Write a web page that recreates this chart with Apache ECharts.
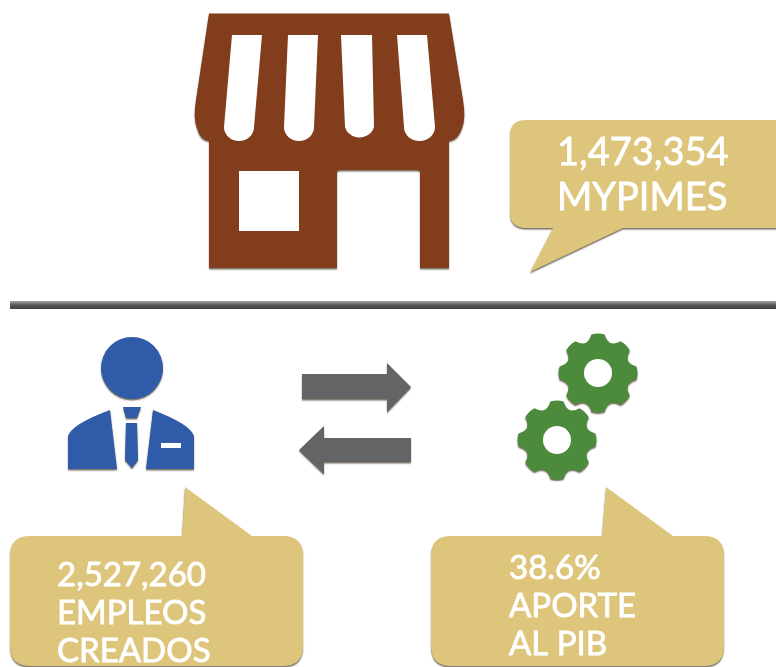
<!DOCTYPE html>
<html>
<head>
<meta charset="utf-8">
<title>MYPIMES</title>
<style>
  html, body { margin: 0; padding: 0; background: #fff; }
  #main { width: 776px; height: 667px; }
</style>
<script src="https://cdn.jsdelivr.net/npm/echarts@6/dist/echarts.min.js"></script>
</head>
<body>
<div id="main"></div>
<script>
// the three figures of the infographic
const mypimesLabels = ["1,473,354", "MYPIMES"];
const empleosLabels = ["2,527,260", "EMPLEOS", "CREADOS"];
const pibLabels = ["38.6%", "APORTE", "AL PIB"];

const BROWN = "#823d1c";
const GOLD = "#dec57c";
const BLUE = "#2f5ba8";
const GREEN = "#4c8a3c";
const GRAY = "#636466";
const FONT = "Lato";

const edge = { shadowColor: "rgba(40,30,10,0.65)", shadowBlur: 1.5, shadowOffsetY: 1.5 };

function path(d, fill, shadow) {
  return { type: "path", shape: { pathData: d }, style: Object.assign({ fill: fill }, shadow ? edge : {}) };
}

function textLines(lines, x, ys, size) {
  return lines.map((t, i) => ({
    type: "text",
    style: {
      text: t,
      x: x,
      y: ys[i],
      fill: "#fff",
      stroke: "#fff",
      lineWidth: 0.8, // the font has no medium cut here, so thicken it a bit
      font: `${size}px ${FONT}`,
      align: "left",
      textAlign: "left",
      verticalAlign: "middle",
      textVerticalAlign: "middle",
    },
  }));
}

// 8 teeth with rounded valleys
function gearPath(cx, cy, rOut, rIn) {
  const pt = (r, a) => (cx + r * Math.cos(a)).toFixed(1) + " " + (cy + r * Math.sin(a)).toFixed(1);
  const step = Math.PI / 4;
  let d = "";
  for (let i = 0; i < 8; i++) {
    const a = -Math.PI / 2 + i * step;
    d += (i === 0 ? "M" : "L") + pt(rOut, a - 0.17) + " Q" + pt(rOut + 1.5, a) + " " + pt(rOut, a + 0.17);
    d += " Q" + pt(rIn, a + step / 2) + " " + pt(rOut, a + step - 0.17) + " ";
  }
  return d + "Z";
}

function circle(cx, cy, r, fill, shadow) {
  return { type: "circle", shape: { cx: cx, cy: cy, r: r }, style: Object.assign({ fill: fill }, shadow ? edge : {}) };
}

const store = [
  path("M209 13.5 L449 13.5 L463 100 Q466 118 462 128 Q458 140 449 141 L449 268 L420 268 L420 172 Q420 170 417 170 L340 170 Q337 170 337 172 L337 268 L209 268 L209 141 Q200 140 197 128 Q193 118 196 100 Z", BROWN, true),
  path("M239 171 L299 171 L299 231 L239 231 Z", "#fff"),
  path("M232 35 L262 35 L254 127 A15 14 0 0 1 224 127 Z", "#fff"),
  path("M288 35 L318 35 L314 127 A15 14 0 0 1 284 127 Z", "#fff"),
  path("M341 35 L372 35 L374 127 A15 14 0 0 1 345 127 Z", "#fff"),
  path("M397 35 L427 35 L435 127 A15.5 14 0 0 1 404 127 Z", "#fff"),
];

const bubbles = [
  path("M526 120 L790 120 L790 228 L623 228 L530 272 L553 228 L526 228 Q510 228 510 212 L510 136 Q510 120 526 120 Z", GOLD, true),
  path("M30 536 L182 536 L185 487 L252 536 L283 536 Q303 536 303 556 L303 646 Q303 666 283 666 L30 666 Q10 666 10 646 L10 556 Q10 536 30 536 Z", GOLD, true),
  path("M451 536 L602 536 L606 487 L673 536 L704 536 Q724 536 724 556 L724 646 Q724 666 704 666 L451 666 Q431 666 431 646 L431 556 Q431 536 451 536 Z", GOLD, true),
];

const person = [
  circle(132, 368, 31, BLUE, true),
  path("M110 410 L117 469 L68 469 L68 436 Q72 424 110 410 Z", BLUE, true),
  path("M153 410 L146 469 L194 469 L194 436 Q190 424 153 410 Z", BLUE, true),
  path("M123 407 L141 407 L137 418 L126 418 Z", BLUE, true),
  path("M126 423 L137 423 L138 460 L132 468 L125 460 Z", BLUE, true),
  path("M161 443 L181 443 L181 448 L161 448 Z", "#fff"),
];

const arrows = [
  path("M302 374 L387 374 L387 363 L411 387 L387 412 L387 399 L302 399 Z", GRAY, true),
  path("M299 450 L324 426 L324 438 L411 438 L411 462 L324 462 L324 474 Z", GRAY, true),
];

const gears = [
  path(gearPath(598, 373, 39, 27), GREEN, true),
  circle(598, 373, 14, "#fff"),
  path(gearPath(557, 440, 39, 27), GREEN, true),
  circle(557, 440, 14, "#fff"),
];

const divider = {
  type: "rect",
  shape: { x: 10, y: 301, width: 766, height: 8 },
  style: {
    fill: new echarts.graphic.LinearGradient(0, 0, 0, 1, [
      { offset: 0, color: "#a5a5a7" },
      { offset: 0.5, color: "#58585a" },
      { offset: 1, color: "#3f3f41" },
    ]),
  },
};

const chart = echarts.init(document.getElementById("main"));
chart.setOption({
  backgroundColor: "#fff",
  animation: false,
  series: [
    {
      type: "custom",
      coordinateSystem: "none",
      silent: true,
      data: [0],
      renderItem: function () {
        return {
          type: "group",
          children: [].concat(
            store,
            [divider],
            bubbles,
            person,
            arrows,
            gears,
            textLines(mypimesLabels, 557, [153, 198], 38),
            textLines(empleosLabels, 57, [575, 613, 651], 33),
            textLines(pibLabels, 509, [568, 606, 644], 33)
          ),
        };
      },
    },
  ],
});
</script>
</body>
</html>
